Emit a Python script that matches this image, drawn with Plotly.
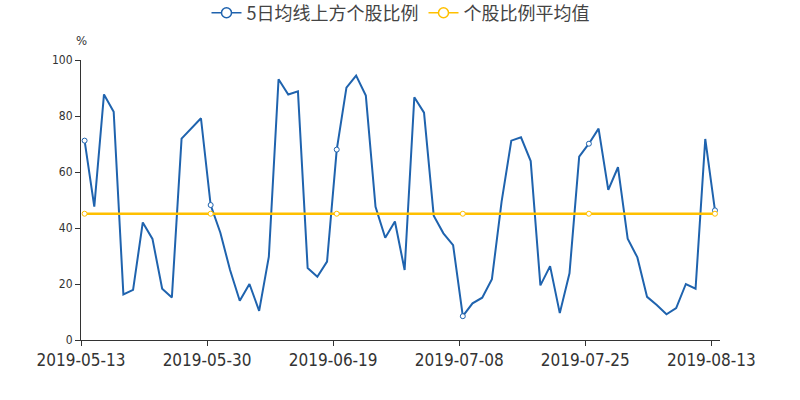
import plotly.graph_objects as go

dates = ["2019-05-13","2019-05-14","2019-05-15","2019-05-16","2019-05-17",
         "2019-05-20","2019-05-21","2019-05-22","2019-05-23","2019-05-24",
         "2019-05-27","2019-05-28","2019-05-29","2019-05-30","2019-05-31",
         "2019-06-03","2019-06-04","2019-06-05","2019-06-06",
         "2019-06-10","2019-06-11","2019-06-12","2019-06-13","2019-06-14",
         "2019-06-17","2019-06-18","2019-06-19","2019-06-20","2019-06-21",
         "2019-06-24","2019-06-25","2019-06-26","2019-06-27","2019-06-28",
         "2019-07-01","2019-07-02","2019-07-03","2019-07-04","2019-07-05",
         "2019-07-08","2019-07-09","2019-07-10","2019-07-11","2019-07-12",
         "2019-07-15","2019-07-16","2019-07-17","2019-07-18","2019-07-19",
         "2019-07-22","2019-07-23","2019-07-24","2019-07-25","2019-07-26",
         "2019-07-29","2019-07-30","2019-07-31","2019-08-01","2019-08-02",
         "2019-08-05","2019-08-06","2019-08-07","2019-08-08","2019-08-09",
         "2019-08-12","2019-08-13"]

above_ma5 = [71.2, 47.6, 87.7, 81.5, 16.3, 17.9, 42.0, 36.1, 18.3, 15.2,
             71.9, 75.5, 79.2, 48.2, 38.3, 25.0, 14.0, 20.0, 10.4, 29.8,
             93.1, 87.7, 88.8, 25.7, 22.6, 28.0, 68.0, 90.1, 94.4, 87.3,
             47.6, 36.5, 42.3, 25.0, 86.7, 81.2, 44.4, 38.1, 33.9, 8.5,
             13.1, 15.1, 21.7, 49.4, 71.2, 72.4, 63.9, 19.5, 26.4, 9.6,
             23.8, 65.5, 70.1, 75.5, 53.6, 61.7, 36.2, 29.5, 15.4, 12.5,
             9.2, 11.4, 20.0, 18.3, 71.8, 46.3]

avg_value = 45.1
average = [avg_value] * len(dates)

label_idx = [0, 13, 26, 39, 52, 65]

BLUE = "#1f63ae"
YELLOW = "#ffc000"
FONT = "DejaVu Sans Condensed, DejaVu Sans, Noto Sans CJK SC, sans-serif"
CJK = "Noto Sans CJK SC, DejaVu Sans, sans-serif"

xs = list(range(len(dates)))
mx = [i for i in xs if i in label_idx]

fig = go.Figure()
series = [("5日均线上方个股比例", above_ma5, BLUE, 2),
          ("个股比例平均值", average, YELLOW, 2.5)]
for name, ys, col, lw in series:
    fig.add_trace(go.Scatter(
        x=xs, y=ys, mode="lines", showlegend=False, hoverinfo="skip",
        line=dict(color=col, width=lw)))
    fig.add_trace(go.Scatter(
        x=mx, y=[ys[i] for i in mx], mode="markers", showlegend=False,
        marker=dict(size=5, color="white", line=dict(color=col, width=1))))
    fig.add_trace(go.Scatter(
        x=[None], y=[None], name=name, mode="lines+markers",
        line=dict(color=col, width=1.5),
        marker=dict(size=10, color="white", line=dict(color=col, width=1.5))))

shift = 0.37
fig.update_layout(
    width=800, height=400,
    margin=dict(l=81, r=80, t=60, b=60),
    paper_bgcolor="white", plot_bgcolor="white",
    font=dict(family=CJK, color="#333333"),
    showlegend=True,
    legend=dict(orientation="h", x=0.5, xanchor="center", y=0.9675, yref="container",
                yanchor="middle", font=dict(size=18, color="#444444", family=CJK),
                itemwidth=30, bgcolor="rgba(0,0,0,0)"),
    xaxis=dict(
        range=[-shift, 65 + 0.52], showgrid=False, zeroline=False,
        showline=True, linecolor="#333333", linewidth=1,
        ticks="outside", ticklen=5, tickcolor="#333333",
        tickvals=[i - shift for i in label_idx],
        ticktext=[dates[i] for i in label_idx],
        tickfont=dict(size=17, color="#333333", family=FONT),
    ),
    yaxis=dict(
        range=[0, 100], dtick=20, showgrid=False, zeroline=False,
        showline=True, linecolor="#333333", linewidth=1,
        ticks="outside", ticklen=5, tickcolor="#333333",
        tickfont=dict(size=12, color="#333333", family=FONT),
    ),
    annotations=[dict(text="%", xref="paper", yref="paper", x=0, y=1,
                      xanchor="center", yanchor="bottom", yshift=10, showarrow=False,
                      font=dict(size=13, color="#333333", family=FONT))],
)

fig.write_html("out.html", config={"displayModeBar": False},
               post_script="document.body.style.margin='0';")
